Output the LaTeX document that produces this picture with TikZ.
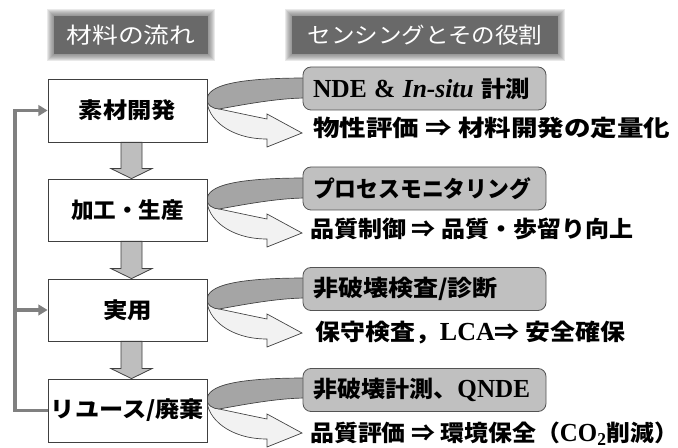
\documentclass[tikz,border=0pt]{standalone}
\usepackage{fontspec}
\usepackage{graphicx}
\setmainfont{Liberation Serif}
\newfontfamily\jp[FakeStretch=1.1]{Noto Sans CJK JP}
\usetikzlibrary{arrows.meta,calc}
\definecolor{hdrc}{RGB}{105,105,105}
\definecolor{lblc}{RGB}{192,192,192}
\definecolor{edgec}{RGB}{64,64,64}
\definecolor{darkrib}{RGB}{165,165,165}
\definecolor{lightrib}{RGB}{242,242,242}
\definecolor{fbcol}{RGB}{128,128,128}
\definecolor{fatc}{RGB}{190,190,190}
\newcommand\fitw[2]{\resizebox{#1}{\height}{#2}}
\newcommand\serifpart[1]{{\rmfamily\fontsize{19.5pt}{20pt}\selectfont #1}}
\begin{document}
\begin{tikzpicture}[x=0.75pt,y=-0.75pt,
  mbox/.style={draw=edgec,fill=white,line width=0.6pt,minimum width=119.25pt,
    minimum height=46.5pt,inner sep=0pt,font=\jp\bfseries\fontsize{16.5pt}{18pt}\selectfont},
  lbl/.style={draw=edgec!90,fill=lblc,line width=0.6pt,rounded corners=6pt,
    text width=167.25pt,inner xsep=7.5pt,inner ysep=0pt,minimum height=32.25pt,align=left,
    font=\jp\bfseries\fontsize{17pt}{18pt}\selectfont},
  line/.style={anchor=west,inner sep=0pt,font=\jp\bfseries\fontsize{17pt}{18pt}\selectfont},
  hdr/.style={fill=hdrc,text=white,inner sep=0pt,font=\jp\fontsize{16.5pt}{18pt}\selectfont},
  fat/.style={draw=edgec,fill=fatc,line width=0.6pt,line join=miter},
  fb/.style={draw=fbcol,line width=2.4pt,-{Triangle[length=7pt,width=8pt]}},
  riblight/.style={draw=edgec,fill=lightrib,line width=0.5pt},
  ribdark/.style={draw=edgec,fill=darkrib,line width=0.5pt},
  ribbon/.pic={
    \filldraw[riblight] (0,0) .. controls (0,18) and (22,39) .. (60,39) -- (60,47) -- (95,33)
      -- (60,14) -- (60,19) .. controls (40,15) and (22,11) .. (12,9)
      .. controls (5,7) and (0,4) .. (0,0) -- cycle;
    \filldraw[ribdark] (100,-22) .. controls (30,-22) and (0,-15) .. (0,0)
      .. controls (0,5) and (6,9) .. (12,9) .. controls (35,5) and (70,-2) .. (100,-2) -- cycle;
  }]
\useasboundingbox (0,0) rectangle (678,448);
\fill[white] (0,0) rectangle (678,448);

% headers with soft edges
\foreach \e in {7,6,5,4,3,2,1} {
  \fill[hdrc,opacity=0.14] ({54-\e},{16-\e}) rectangle ({208+\e},{54+\e});
  \fill[hdrc,opacity=0.14] ({292-\e},{16-\e}) rectangle ({558+\e},{54+\e});
}
\node[hdr,minimum width=115.5pt,minimum height=28.5pt] (h1) at (131,35) {\fitw{96.75pt}{材料の流れ}};
\node[hdr,minimum width=199.5pt,minimum height=28.5pt] (h2) at (425,35) {\fitw{176.25pt}{センシングとその役割}};

% ribbons
\pic at (207,100) {ribbon};
\pic at (207,200) {ribbon};
\pic at (207,300) {ribbon};
\pic at (207,400) {ribbon};

% material flow boxes
\node[mbox,minimum height=47.25pt] (b1) at (127.5,110.5) {\fitw{72.75pt}{素材開発}};
\node[mbox] (b2) at (127.5,210) {\fitw{84.75pt}{加工・生産}};
\node[mbox] (b3) at (127.5,310) {\fitw{36.75pt}{実用}};
\node[mbox,minimum height=47.25pt] (b4) at (127.5,410.5) {\fitw{114.75pt}{リユース/廃棄}};

% down arrows
\newcommand\fatdown[2]{%
  \filldraw[fat] ($(#1.south)+(-6.5,0)$) -- ($(#1.south)+(14.5,0)$)
    -- ($(#2.north)+(14.5,-10)$) -- ($(#2.north)+(24.5,-10)$) -- ($(#2.north)+(4,0)$)
    -- ($(#2.north)+(-16.5,-10)$) -- ($(#2.north)+(-6.5,-10)$) -- cycle;}
\fatdown{b1}{b2}
\fatdown{b2}{b3}
\fatdown{b3}{b4}

% feedback loop
\coordinate (fbx) at (15,0);
\draw[fb] (b4.west) -| (fbx |- b1.west) -- (b1.west);
\draw[fb] (fbx |- b3.west) -- (b3.west);

% sensing labels
\node[lbl] (l1) at (424.5,88.5) {\fitw{162.75pt}{\serifpart{NDE \& \textit{In-situ}} 計測}};
\node[lbl] (l2) at (424.5,188.5) {\fitw{163.5pt}{プロセスモニタリング}};
\node[lbl] (l3) at (424.5,289) {\fitw{138.75pt}{非破壊検査/診断}};
\node[lbl] (l4) at (424.5,390) {\fitw{162.75pt}{非破壊計測、\serifpart{QNDE}}};

% role lines
\node[line] (t1) at (313,128) {\fitw{267.75pt}{物性評価 ⇒ 材料開発の定量化}};
\node[line] (t2) at (310,229) {\fitw{242.25pt}{品質制御 ⇒ 品質・歩留り向上}};
\node[line] (t3) at (315,333) {\fitw{232.5pt}{保守検査，\serifpart{LCA}⇒ 安全確保}};
\node[line] (t4) at (310,434) {\fitw{276pt}{品質評価 ⇒ 環境保全（\serifpart{CO\textsubscript{2}}削減）}};
\end{tikzpicture}
\end{document}
